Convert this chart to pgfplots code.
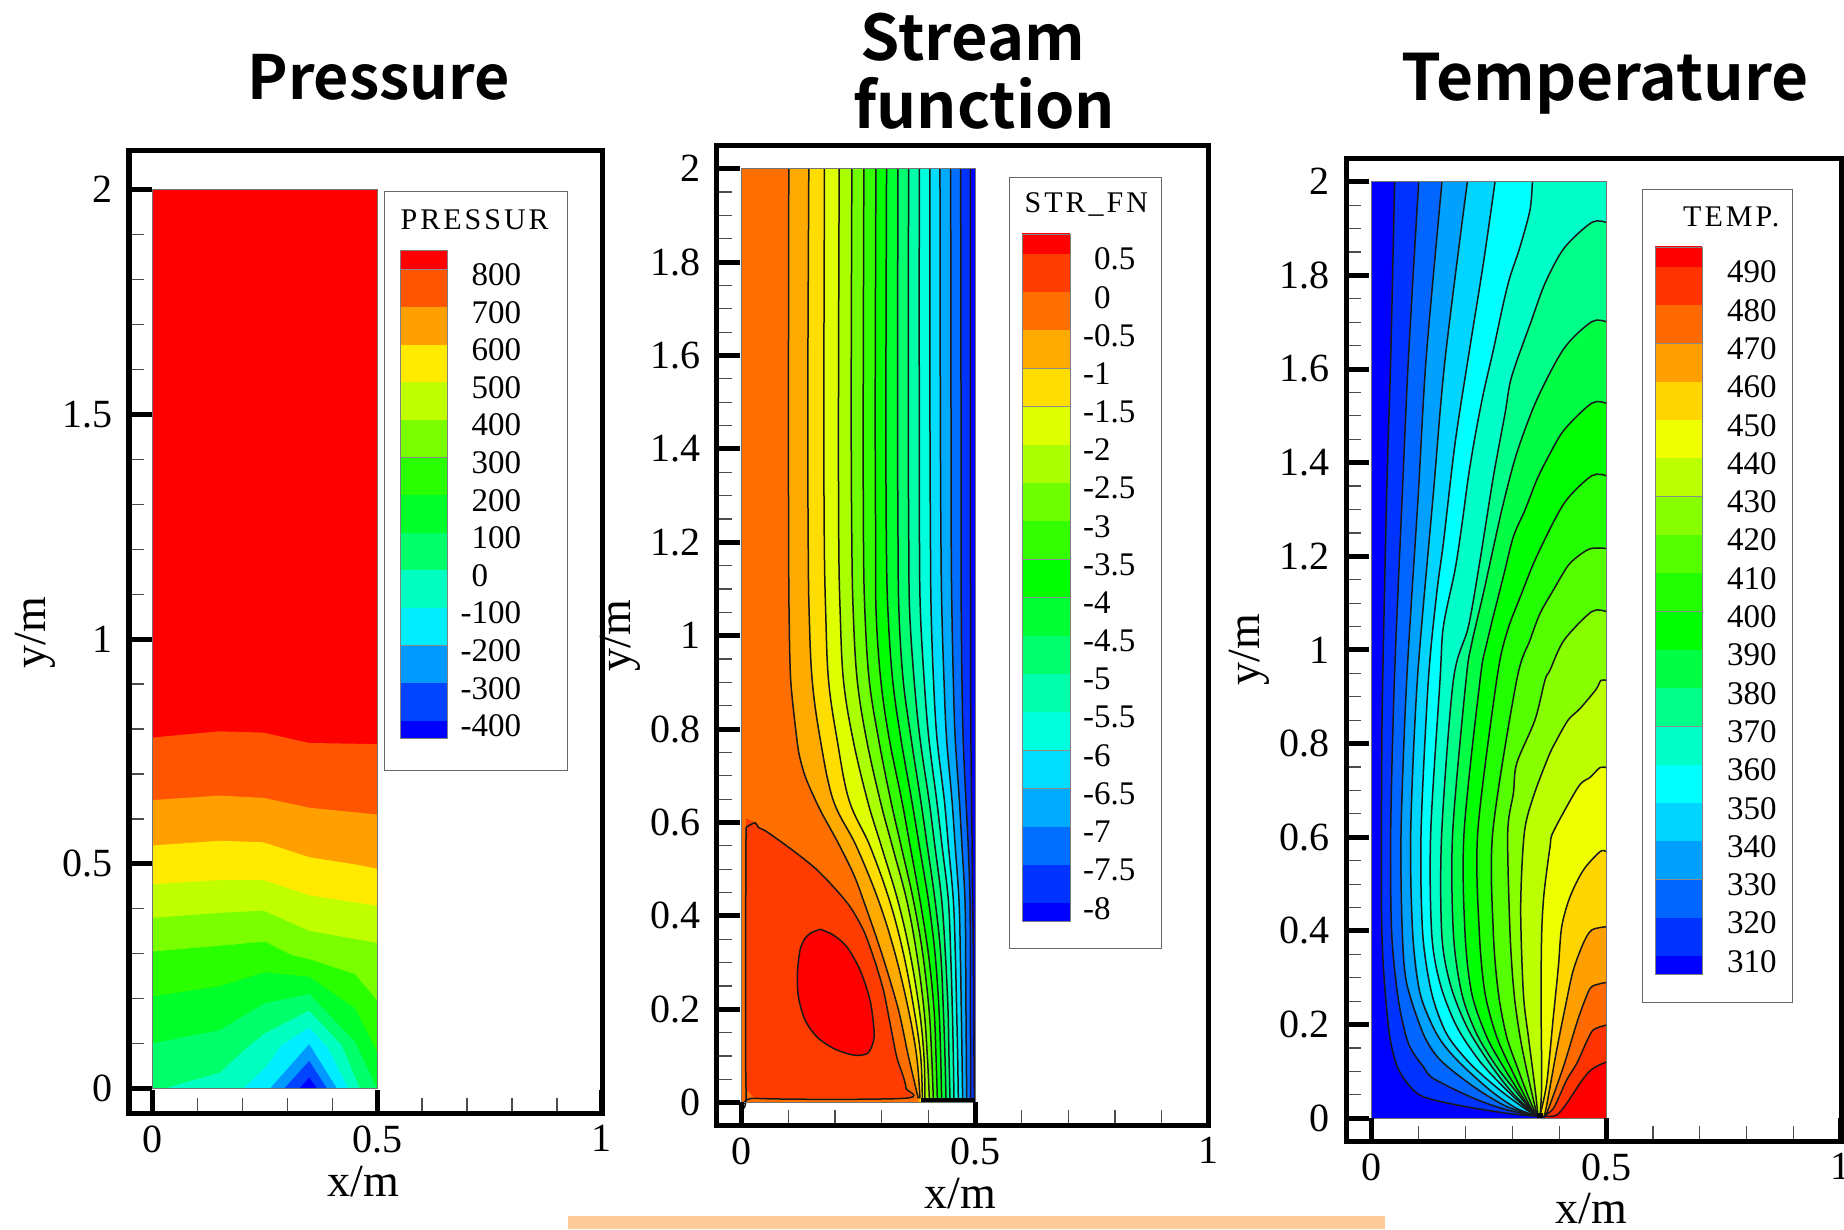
\documentclass[border=0pt]{standalone}
\usepackage{pgfplots}
\usepackage{pgfplotstable}
\usepackage{fontspec}
\pgfplotsset{compat=1.18}
\setmainfont{Liberation Serif}
\newfontfamily\tfont{Noto Sans CJK SC}[BoldFont={* Bold}]
\newfontfamily\spaced[LetterSpace=10]{Liberation Serif}
\newcommand{\dc}[1]{\definecolor{c#1}{HTML}{#1}}
\dc{FF0000}\dc{FF3300}\dc{FF3C00}\dc{FF5500}\dc{FF6A00}\dc{FF6F00}\dc{FFA000}\dc{FFAA00}\dc{FFD500}\dc{FFDD00}\dc{FFEA00}
\dc{EEFF00}\dc{DDFF00}\dc{C0FF00}\dc{BBFF00}\dc{AAFF00}\dc{88FF00}\dc{7AFF00}\dc{6FFF00}\dc{55FF00}\dc{33FF00}\dc{2AFF00}\dc{22FF00}
\dc{00FF00}\dc{00FF2A}\dc{00FF33}\dc{00FF44}\dc{00FF6A}\dc{00FF6F}\dc{00FF88}\dc{00FFAA}\dc{00FFC0}\dc{00FFC8}\dc{00FFDD}\dc{00FFFF}
\dc{00EEFF}\dc{00DDFF}\dc{00D5FF}\dc{00AAFF}\dc{00A0FF}\dc{0099FF}\dc{006FFF}\dc{0066FF}\dc{0044FF}\dc{0033FF}\dc{0000FF}
\definecolor{peach}{HTML}{FFCC99}
\newcommand{\lf}{\fontsize{33}{35}\selectfont}
\pgfplotsset{tec/.style={scale only axis,anchor=south west,axis on top,
  tick align=inside,xtick pos=bottom,ytick pos=left,
  axis line style={line width=5pt,black},
  major tick style={line width=5pt,black},
  minor tick style={line width=1.2pt,black!70},
  major tick length=23pt,minor tick length=15pt,
  xtick={0,0.5,1},minor x tick num=4,
  /pgf/number format/assume math mode=true,
  /pgf/number format/fixed,
  tick label style={font=\fontsize{40}{42}\selectfont},
  x tick label style={yshift=-9pt},
  y tick label style={xshift=-13pt},
  label style={font=\fontsize{46}{48}\selectfont},
  xlabel={x/m},ylabel={y/m}}}
\newcommand{\fillonly}[2]{\addplot[fill=c#1,draw=none,forget plot] coordinates {#2};}
\newcommand{\both}[3]{\addplot[fill=c#1,draw=none,forget plot] coordinates {#2 #3};
  \addplot[black!90,line width=1.5pt,smooth,tension=0.5,forget plot] coordinates {#2};}
\newcommand{\tab}[2]{\addplot[fill=c#2,draw=none,forget plot] table[x=#1,y=y]{\streamtab};
  \addplot[black!90,line width=1.5pt,smooth,tension=0.6,forget plot,skip coords between index={0}{1},skip coords between index={14}{16}] table[x=#1,y=y]{\streamtab};}
\newcommand{\databox}{\addplot[black!55,line width=0.8pt,forget plot] coordinates {(0,0) (0.5,0) (0.5,2) (0,2) (0,0)};}
\newcommand{\tecleg}[9]{%
  \begin{scope}\clip (#1,#3) rectangle (#2,#6);
  \foreach \c [count=\i from 0] in {#7} {\fill[fill=c\c] (#1,{#4+(\i-1)*#5}) rectangle (#2,{#4+\i*#5});
    \draw[black!45,line width=0.6pt] (#1,{#4+\i*#5}) -- (#2,{#4+\i*#5});}
  \end{scope}
  \draw[black!50,line width=0.7pt] (#1,#3) rectangle (#2,#6);
  \foreach \l [count=\i from 0] in {#9} {\node[anchor=west,font=\lf,inner sep=0pt] at (#8,{#4+\i*#5+5}) {\l};}}
\pgfplotstableread{
y L2 L3 L4 L5 L6 L7 L8 L9 L10 L11 L12 L13 L14 L15 L16
2 0 0 0 0 0 0 0 0 0 0 0 0 0 0 0
2 .1438 .1774 .2089 .2361 .2618 .2876 .3104 .3348 .3577 .3805 .4034 .4249 .4478 .4692 .49
1.5 .1416 .176 .2074 .2346 .2604 .2861 .309 .334 .3569 .3805 .4034 .4256 .4485 .47 .49
1.2 .1425 .177 .208 .236 .261 .287 .31 .335 .358 .381 .4045 .427 .449 .47 .49
1.05 .1445 .18 .211 .239 .264 .288 .3135 .337 .36 .383 .406 .429 .4505 .4705 .4906
.905 .151 .186 .218 .2475 .2732 .298 .3235 .346 .3695 .391 .411 .4335 .4535 .472 .4907
.78 .168 .204 .238 .267 .293 .316 .341 .363 .382 .401 .4185 .439 .4575 .4745 .4912
.648 .196 .23 .2692 .2964 .3192 .3428 .3642 .3835 .4014 .4178 .4342 .4506 .4664 .4805 .4925
.55 .2453 .2746 .299 .3225 .3415 .3608 .3806 .3977 .4139 .4293 .443 .4575 .472 .4854 .4938
.434 .2928 .3164 .3342 .3535 .3678 .382 .3999 .4142 .4285 .4428 .4535 .4656 .4785 .4892 .4949
.32 .3285 .3464 .3606 .3749 .3878 .3999 .4142 .4264 .4364 .4478 .4578 .4685 .4799 .4899 .4964
.2 .3571 .3692 .3806 .3906 .4014 .4121 .4228 .4321 .4421 .4514 .4606 .4706 .4806 .4899 .4971
.1 .3749 .3835 .3906 .3978 .4071 .4164 .4264 .4356 .4442 .4535 .4628 .4721 .4814 .4906 .4978
.009 .3821 .3871 .3928 .4021 .4106 .4192 .4285 .4378 .4464 .4549 .4642 .4735 .4821 .4906 .4985
0 .3821 .3871 .3928 .4021 .4106 .4192 .4285 .4378 .4464 .4549 .4642 .4735 .4821 .4906 .4985
0 0 0 0 0 0 0 0 0 0 0 0 0 0 0 0
}\streamtab
\begin{document}
\begin{tikzpicture}
\path[use as bounding box,fill=white] (0pt,0pt) rectangle (1844pt,1229pt);
\fill[peach] (568pt,0pt) rectangle (1385pt,13pt);
%------------ Pressure
\begin{axis}[tec,at={(129pt,116pt)},width=473pt,height=962.5pt,
  xmin=-0.0518,xmax=1.0002,ymin=-0.054,ymax=2.0868,
  ytick={0,0.5,1,1.5,2},minor y tick num=4,
  x label style={at={(rel axis cs:0.495,0)},anchor=center,yshift=-69pt},
  y label style={at={(rel axis cs:0,0.499)},anchor=center,yshift=94pt}]
\fillonly{FF0000}{(0,0) (.5,0) (.5,2) (0,2)}
\fillonly{FF5500}{(0,.781) (.15,.795) (.247,.792) (.349,.769) (.5,.7665) (.5,0) (0,0)}
\fillonly{FFA000}{(0,.642) (.15,.652) (.247,.647) (.349,.625) (.5,.61) (.5,0) (0,0)}
\fillonly{FFEA00}{(0,.541) (.15,.5515) (.247,.548) (.349,.515) (.462,.497) (.5,.489) (.5,0) (0,0)}
\fillonly{C0FF00}{(0,.455) (.15,.464) (.247,.464) (.349,.43) (.5,.407) (.5,0) (0,0)}
\fillonly{7AFF00}{(0,.38) (.15,.391) (.247,.396) (.349,.351) (.5,.324) (.5,0) (0,0)}
\fillonly{2AFF00}{(0,.305) (.15,.318) (.25,.327) (.31,.297) (.349,.288) (.4505,.255) (.5,.196) (.5,0) (0,0)}
\fillonly{00FF2A}{(0,.205) (.15,.228) (.25,.259) (.349,.249) (.4505,.179) (.5,.082) (.5,0) (0,0)}
\fillonly{00FF6A}{(0,.101) (.15,.13) (.25,.19) (.349,.2105) (.4505,.1045) (.5,0) (0,0)}
\fillonly{00FFC0}{(.024,0) (.15,.0356) (.217,.097) (.25,.123) (.349,.1735) (.421,.097) (.4615,0)}
\fillonly{00EEFF}{(.202,0) (.254,.049) (.2875,.097) (.349,.136) (.389,.093) (.436,0)}
\fillonly{0099FF}{(.2615,0) (.349,.099) (.411,0)}
\fillonly{0044FF}{(.293,0) (.349,.062) (.389,0)}
\fillonly{0000FF}{(.327,0) (.349,.025) (.367,0)}
\databox
\end{axis}
%------------ Stream function
\begin{axis}[tec,at={(716.7pt,104pt)},width=491.8pt,height=979pt,
  xmin=-0.0536,xmax=1.0004,ymin=-0.0478,ymax=2.0486,
  ytick={0,0.2,0.4,0.6,0.8,1,1.2,1.4,1.6,1.8,2},minor y tick num=3,
  x label style={at={(rel axis cs:0.495,0)},anchor=center,yshift=-69pt},
  y label style={at={(rel axis cs:0,0.5)},anchor=center,yshift=96pt}]
\fillonly{0000FF}{(0,0) (.5,0) (.5,2) (0,2)}
\tab{L16}{0033FF}
\tab{L15}{006FFF}
\tab{L14}{00AAFF}
\tab{L13}{00DDFF}
\tab{L12}{00FFDD}
\tab{L11}{00FFAA}
\tab{L10}{00FF6F}
\tab{L9}{00FF33}
\tab{L8}{00FF00}
\tab{L7}{33FF00}
\tab{L6}{6FFF00}
\tab{L5}{AAFF00}
\tab{L4}{DDFF00}
\tab{L3}{FFDD00}
\tab{L2}{FFAA00}
\both{FF6F00}{(.1009,2) (.1001,1.5) (.1005,1.2) (.1015,1.05) (.105,.905) (.118,.78) (.125,.737) (.139,.691) (.168,.627) (.2036,.562) (.239,.491) (.2606,.434) (.2999,.32) (.3356,.2) (.3571,.1) (.3785,.009)}{(.3785,0) (0,0) (0,2)}
\fillonly{FF3C00}{(.0093,.609) (.0286,.5996) (.0093,.5896)}
\fillonly{FF3C00}{(.3521,.0307) (.37,.009) (.3479,.009)}
\both{FF3C00}{(.0093,.5896) (.0286,.5996) (.0357,.5896) (.0536,.5803) (.1036,.5446) (.1536,.5054) (.1964,.4625) (.2321,.4197) (.2607,.3697) (.2821,.3126) (.3036,.2413) (.3179,.1699) (.3321,.0985) (.3464,.0557) (.3521,.0307) (.3479,.0093) (.0286,.0093) (.0093,.0286) (.0093,.5896)}{}
\both{FF0000}{(.1693,.3712) (.15,.3647) (.1357,.3519) (.125,.3269) (.1193,.2769) (.1214,.227) (.1357,.177) (.1607,.1413) (.1964,.1163) (.2321,.1035) (.2536,.1014) (.2714,.1071) (.2821,.1306) (.2836,.1556) (.275,.2198) (.2536,.2841) (.225,.334) (.1964,.359) (.1693,.3712)}{}
\addplot[black,line width=4pt,forget plot] coordinates {(.385,.006) (.5,.006)};
\databox
\end{axis}
%------------ Temperature
\begin{axis}[tec,at={(1346pt,88pt)},width=495pt,height=982.2pt,
  xmin=-0.0548,xmax=1.0013,ymin=-0.0485,ymax=2.0489,
  ytick={0,0.2,0.4,0.6,0.8,1,1.2,1.4,1.6,1.8,2},minor y tick num=3,
  x label style={at={(rel axis cs:0.495,0)},anchor=center,yshift=-68pt},
  y label style={at={(rel axis cs:0,0.5)},anchor=center,yshift=97pt}]
\fillonly{FF0000}{(0,0) (.5,0) (.5,2) (0,2)}
\both{FF3300}{(.5,.12) (.473,.107) (.4516,.085) (.4161,.032) (.3947,.007) (.37,.004)}{(.37,0) (0,0) (0,2) (.5,2)}
\both{FF6A00}{(.5,.199) (.473,.189) (.4587,.164) (.4374,.117) (.4161,.082) (.3876,.021) (.366,.005)}{(.366,0) (0,0) (0,2) (.5,2)}
\both{FFA000}{(.5,.29) (.4694,.281) (.4552,.253) (.4374,.203) (.409,.11) (.3734,.0107) (.365,.004)}{(.365,0) (0,0) (0,2) (.5,2)}
\both{FFD500}{(.5,.409) (.4694,.402) (.4516,.374) (.4303,.317) (.4161,.253) (.3947,.146) (.3698,.0107) (.362,.004)}{(.362,0) (0,0) (0,2) (.5,2)}
\both{EEFF00}{(.5,.5694) (.4872,.5694) (.4516,.53) (.4232,.473) (.4054,.409) (.3983,.324) (.3876,.217) (.3734,.075) (.3592,.007)}{(.3592,0) (0,0) (0,2) (.5,2)}
\both{BBFF00}{(.5,.749) (.4872,.749) (.4659,.728) (.441,.708) (.3876,.612) (.3805,.58) (.3677,.48) (.3627,.395) (.3613,.253) (.3627,.075) (.3592,.005)}{(.3592,0) (0,0) (0,2) (.5,2)}
\both{88FF00}{(.5,.935) (.489,.935) (.478,.915) (.4445,.875) (.4196,.851) (.3947,.808) (.377,.772) (.345,.687) (.3257,.61) (.3179,.452) (.3236,.267) (.3343,.174) (.3435,.103) (.3506,.046) (.3542,.0107) (.356,.004)}{(.356,0) (0,0) (0,2) (.5,2)}
\both{55FF00}{(.5,1.082) (.4694,1.082) (.4104,1.021) (.3805,.957) (.3698,.936) (.3485,.851) (.3094,.758) (.3023,.694) (.2902,.61) (.2952,.395) (.3037,.267) (.3165,.174) (.3307,.103) (.3435,.046) (.3521,.0107) (.356,.004)}{(.356,0) (0,0) (0,2) (.5,2)}
\both{22FF00}{(.5,1.217) (.4694,1.217) (.4481,1.206) (.4196,1.181) (.3876,1.128) (.3592,1.078) (.3378,1.021) (.3094,.936) (.2582,.61) (.2596,.395) (.2703,.267) (.288,.174) (.3129,.103) (.3343,.046) (.3485,.014) (.356,.004)}{(.356,0) (0,0) (0,2) (.5,2)}
\both{00FF00}{(.5,1.372) (.4694,1.372) (.4104,1.313) (.3521,1.2) (.32,1.121) (.288,1.036) (.2667,.936) (.2262,.61) (.2297,.395) (.2418,.267) (.2667,.174) (.2987,.103) (.3272,.046) (.3449,.014) (.356,.004)}{(.356,0) (0,0) (0,2) (.5,2)}
\both{00FF44}{(.5,1.527) (.4694,1.527) (.4104,1.4698) (.377,1.413) (.3521,1.363) (.3272,1.299) (.3023,1.242) (.2809,1.157) (.2454,1.014) (.2312,.936) (.197,.61) (.1991,.395) (.2134,.267) (.2454,.174) (.2809,.11) (.3165,.053) (.3414,.018) (.356,.004)}{(.356,0) (0,0) (0,2) (.5,2)}
\both{00FF88}{(.5,1.701) (.4694,1.701) (.4104,1.644) (.3521,1.534) (.3094,1.42) (.2809,1.313) (.2632,1.235) (.2383,1.121) (.2134,1.014) (.2013,.936) (.1728,.61) (.1743,.395) (.192,.267) (.224,.18) (.2667,.11) (.3058,.06) (.3393,.018) (.356,.004)}{(.356,0) (0,0) (0,2) (.5,2)}
\both{00FFC8}{(.5,1.913) (.4694,1.913) (.4104,1.858) (.3698,1.783) (.3414,1.705) (.2987,1.584) (.2845,1.505) (.2596,1.37) (.2312,1.192) (.2063,1.05) (.1743,.936) (.1494,.61) (.1494,.395) (.1671,.288) (.2027,.196) (.2489,.121) (.2952,.06) (.3364,.018) (.356,.004)}{(.356,0) (0,0) (0,2) (.5,2)}
\both{00FFFF}{(.3428,2) (.3378,1.94) (.3165,1.861) (.2952,1.797) (.2809,1.74) (.2596,1.641) (.2383,1.548) (.2205,1.456) (.2063,1.37) (.192,1.264) (.1778,1.171) (.1529,1.05) (.1458,.936) (.1259,.61) (.128,.395) (.1458,.288) (.1814,.196) (.2312,.121) (.288,.06) (.3343,.018) (.356,.004)}{(.356,0) (0,0) (0,2)}
\both{00D5FF}{(.2632,2) (.2383,1.826) (.2063,1.626) (.1778,1.441) (.1529,1.228) (.1387,1.121) (.1209,.936) (.1053,.61) (.1088,.395) (.128,.267) (.16,.18) (.2098,.117) (.2738,.06) (.3307,.018) (.356,.004)}{(.356,0) (0,0) (0,2)}
\both{00A0FF}{(.2041,2) (.1565,1.62) (.1316,1.335) (.0974,.936) (.0832,.61) (.0875,.395) (.1031,.267) (.1387,.18) (.1814,.125) (.2525,.06) (.3094,.021) (.356,.004)}{(.356,0) (0,0) (0,2)}
\both{0066FF}{(.15,2) (.116,1.62) (.0996,1.335) (.0747,.936) (.0626,.61) (.0654,.395) (.0747,.288) (.1102,.18) (.1458,.125) (.2169,.068) (.288,.025) (.356,.004)}{(.356,0) (0,0) (0,2)}
\both{0033FF}{(.1003,2) (.0782,1.62) (.0654,1.335) (.0484,.936) (.0405,.61) (.0427,.395) (.0569,.253) (.0782,.16) (.1102,.11) (.1316,.085) (.2169,.043) (.288,.018) (.356,.004)}{(.356,0) (0,0) (0,2)}
\both{0000FF}{(.049,2) (.0405,1.62) (.032,1.335) (.0235,.936) (.0213,.75) (.0206,.466) (.0249,.324) (.0377,.18) (.0548,.11) (.0818,.068) (.1102,.046) (.1814,.0285) (.288,.0107) (.356,.004)}{(.356,0) (0,0) (0,2)}
\addplot[black,line width=5pt,forget plot] coordinates {(.352,.006) (.366,.006)};
\databox
\end{axis}
%------------ titles and legends
\begin{scope}[x=1pt,y=-1pt,shift={(0pt,1229pt)}]
\node[font=\fontsize{61}{64}\selectfont\tfont\bfseries] at (378.6,77) {Pressure};
\node[font=\fontsize{63}{66}\selectfont\tfont\bfseries] at (973,37) {Stream};
\node[font=\fontsize{63}{66}\selectfont\tfont\bfseries] at (984,103) {function};
\node[font=\fontsize{64}{66}\selectfont\tfont\bfseries] at (1605,84) {Temperature};
% legend boxes
\draw[black!60,line width=1pt] (384.5,191.5) rectangle (567.5,770.5);
\node[anchor=west,inner sep=0pt,font=\fontsize{30}{32}\selectfont\spaced] at (400.5,220) {PRESSUR};
\tecleg{400}{447}{250.5}{269.7}{37.6}{738.6}{FF0000,FF5500,FFA000,FFEA00,C0FF00,7AFF00,2AFF00,00FF2A,00FF6A,00FFC0,00EEFF,0099FF,0044FF,0000FF}{471.5}{800,700,600,500,400,300,200,100,0,\llap{-}100,\llap{-}200,\llap{-}300,\llap{-}400}
\draw[black!60,line width=1pt] (1009,177.6) rectangle (1161,949);
\node[anchor=west,inner sep=0pt,font=\fontsize{30}{32}\selectfont\spaced] at (1024.5,204.5) {STR\_FN};
\tecleg{1022}{1070}{234}{254}{38.2}{921}{FF0000,FF3C00,FF6F00,FFAA00,FFDD00,DDFF00,AAFF00,6FFF00,33FF00,00FF00,00FF33,00FF6F,00FFAA,00FFDD,00DDFF,00AAFF,006FFF,0033FF,0000FF}{1094}{0.5,0,\llap{-}0.5,\llap{-}1,\llap{-}1.5,\llap{-}2,\llap{-}2.5,\llap{-}3,\llap{-}3.5,\llap{-}4,\llap{-}4.5,\llap{-}5,\llap{-}5.5,\llap{-}6,\llap{-}6.5,\llap{-}7,\llap{-}7.5,\llap{-}8}
\draw[black!60,line width=1pt] (1642,189.5) rectangle (1792,1002.5);
\node[anchor=west,inner sep=0pt,font=\fontsize{30}{32}\selectfont\spaced] at (1683,216.5) {TEMP.};
\tecleg{1655}{1702}{247}{267}{38.3}{974}{FF0000,FF3300,FF6A00,FFA000,FFD500,EEFF00,BBFF00,88FF00,55FF00,22FF00,00FF00,00FF44,00FF88,00FFC8,00FFFF,00D5FF,00A0FF,0066FF,0033FF,0000FF}{1727}{490,480,470,460,450,440,430,420,410,400,390,380,370,360,350,340,330,320,310}
\end{scope}
\end{tikzpicture}
\end{document}
